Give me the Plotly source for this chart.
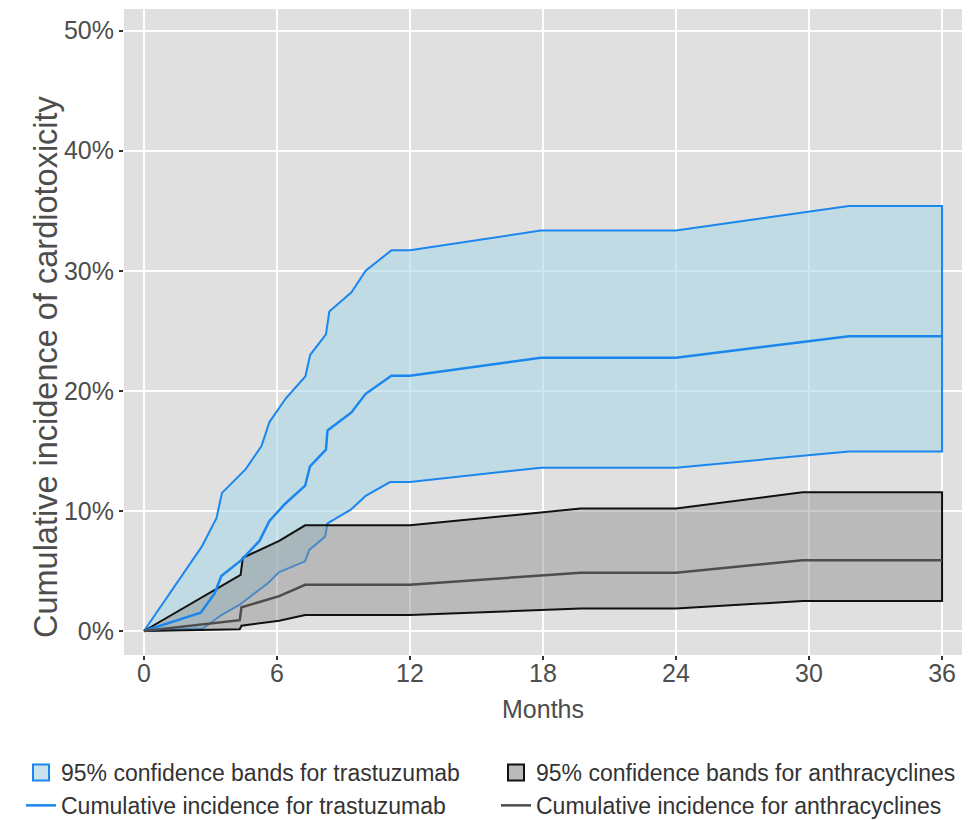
import plotly.graph_objects as go

# ---- data (percent) ----
tr_up_x = [0, 2.6, 3.27, 3.52, 4.6, 5.3, 5.66, 6.41, 7.28, 7.5, 8.21, 8.36, 9.36, 10.0, 11.16, 12, 17.9, 24, 31.8, 36]
tr_up_y = [0, 7.0, 9.4, 11.5, 13.5, 15.4, 17.4, 19.4, 21.2, 23.0, 24.7, 26.6, 28.2, 30.0, 31.7, 31.7, 33.35, 33.35, 35.4, 35.4]

tr_mid_x = [0, 2.56, 3.19, 3.49, 4.39, 5.21, 5.66, 6.37, 7.27, 7.49, 8.21, 8.28, 9.36, 10.0, 11.16, 12, 17.9, 24, 31.8, 36]
tr_mid_y = [0, 1.53, 3.14, 4.58, 5.9, 7.5, 9.17, 10.6, 12.1, 13.7, 15.1, 16.7, 18.2, 19.75, 21.25, 21.25, 22.75, 22.75, 24.55, 24.55]

tr_lo_x = [0, 2.67, 3.49, 4.3, 5.59, 6.1, 7.27, 7.46, 8.17, 8.28, 9.33, 10.0, 11.1, 12, 17.9, 24, 31.8, 36]
tr_lo_y = [0, 0.22, 1.33, 2.17, 3.97, 4.9, 5.8, 6.75, 7.86, 8.97, 10.1, 11.25, 12.4, 12.4, 13.6, 13.6, 14.95, 14.95]

an_up_x = [0, 4.36, 4.46, 6.1, 7.27, 12, 19.7, 24, 29.7, 36]
an_up_y = [0, 4.67, 6.1, 7.5, 8.8, 8.8, 10.2, 10.2, 11.55, 11.55]

an_mid_x = [0, 4.32, 4.4, 6.1, 7.27, 12, 19.7, 24, 29.7, 36]
an_mid_y = [0, 0.9, 1.97, 2.9, 3.85, 3.85, 4.85, 4.85, 5.9, 5.9]

an_lo_x = [0, 4.32, 4.4, 6.1, 7.27, 12, 19.7, 24, 29.7, 36]
an_lo_y = [0, 0.14, 0.44, 0.86, 1.33, 1.33, 1.87, 1.87, 2.5, 2.5]

x_ticks = [0, 6, 12, 18, 24, 30, 36]
y_ticks = [0, 10, 20, 30, 40, 50]

BLUE = "#1B87EE"
TR_FILL = "rgba(173,216,230,0.62)"
AN_FILL = "rgba(140,140,140,0.45)"
FONT = "Liberation Sans, Arial, sans-serif"

fig = go.Figure()

fig.add_trace(go.Scatter(
    x=tr_up_x + tr_lo_x[::-1], y=tr_up_y + tr_lo_y[::-1],
    fill="toself", fillcolor=TR_FILL,
    line=dict(color=BLUE, width=2), mode="lines", showlegend=False))

fig.add_trace(go.Scatter(
    x=an_up_x + an_lo_x[::-1], y=an_up_y + an_lo_y[::-1],
    fill="toself", fillcolor=AN_FILL,
    line=dict(color="#111111", width=2), mode="lines", showlegend=False))

fig.add_trace(go.Scatter(
    x=tr_mid_x, y=tr_mid_y, mode="lines",
    line=dict(color=BLUE, width=2.5), showlegend=False))

fig.add_trace(go.Scatter(
    x=an_mid_x, y=an_mid_y, mode="lines",
    line=dict(color="#4D4D4D", width=2.5), showlegend=False))

# legend entries (two legends = two columns)
fig.add_trace(go.Scatter(
    x=[None], y=[None], mode="markers", legend="legend",
    marker=dict(symbol="square", size=19, color="#C8E3EE", line=dict(color=BLUE, width=2)),
    name="95% confidence bands for trastuzumab", legendrank=1))
fig.add_trace(go.Scatter(
    x=[None], y=[None], mode="lines", legend="legend",
    line=dict(color=BLUE, width=2.5),
    name="Cumulative incidence for trastuzumab", legendrank=2))
fig.add_trace(go.Scatter(
    x=[None], y=[None], mode="markers", legend="legend2",
    marker=dict(symbol="square", size=19, color="#BABABA", line=dict(color="#111111", width=2)),
    name="95% confidence bands for anthracyclines", legendrank=1))
fig.add_trace(go.Scatter(
    x=[None], y=[None], mode="lines", legend="legend2",
    line=dict(color="#4D4D4D", width=2.5),
    name="Cumulative incidence for anthracyclines", legendrank=2))

leg_common = dict(orientation="h", xref="container", xanchor="left",
                  y=(820 - 751) / 820, yref="container", yanchor="top",
                  entrywidth=430, entrywidthmode="pixels",
                  font=dict(size=23, color="#333333", family=FONT),
                  tracegroupgap=0, itemwidth=30, bgcolor="rgba(0,0,0,0)")

fig.update_layout(
    width=979, height=820,
    margin=dict(l=124, r=17, t=9, b=165),
    paper_bgcolor="white", plot_bgcolor="#E0E0E0",
    font=dict(family=FONT, color="#4D4D4D", size=24),
    showlegend=True,
    legend=dict(x=21 / 979, **leg_common),
    legend2=dict(x=496 / 979, **leg_common),
    annotations=[dict(text="Cumulative incidence of cardiotoxicity",
                      xref="paper", yref="paper", x=-0.093, y=(655 - 367) / 646,
                      xanchor="center", yanchor="middle", textangle=-90,
                      showarrow=False, font=dict(size=32.5, color="#4D4D4D", family=FONT))],
)

fig.update_xaxes(range=[-0.9, 36.9], tickvals=x_ticks, ticktext=[str(v) for v in x_ticks],
                 showgrid=True, gridcolor="white", gridwidth=2, zeroline=False,
                 ticks="outside", ticklen=4, tickcolor="#333333", tickwidth=1.5,
                 ticklabelstandoff=-8,
                 tickfont=dict(size=25, color="#4D4D4D"),
                 title=dict(text="Months", font=dict(size=25, color="#4D4D4D"), standoff=14),
                 showline=False)
fig.update_yaxes(range=[-2.0, 51.8], tickvals=y_ticks, ticktext=[f"{v}%" for v in y_ticks],
                 showgrid=True, gridcolor="white", gridwidth=2, zeroline=False,
                 ticks="outside", ticklen=4, tickcolor="#333333", tickwidth=1.5,
                 tickfont=dict(size=25, color="#4D4D4D"),
                 showline=False)

fig.write_html("out.html")
